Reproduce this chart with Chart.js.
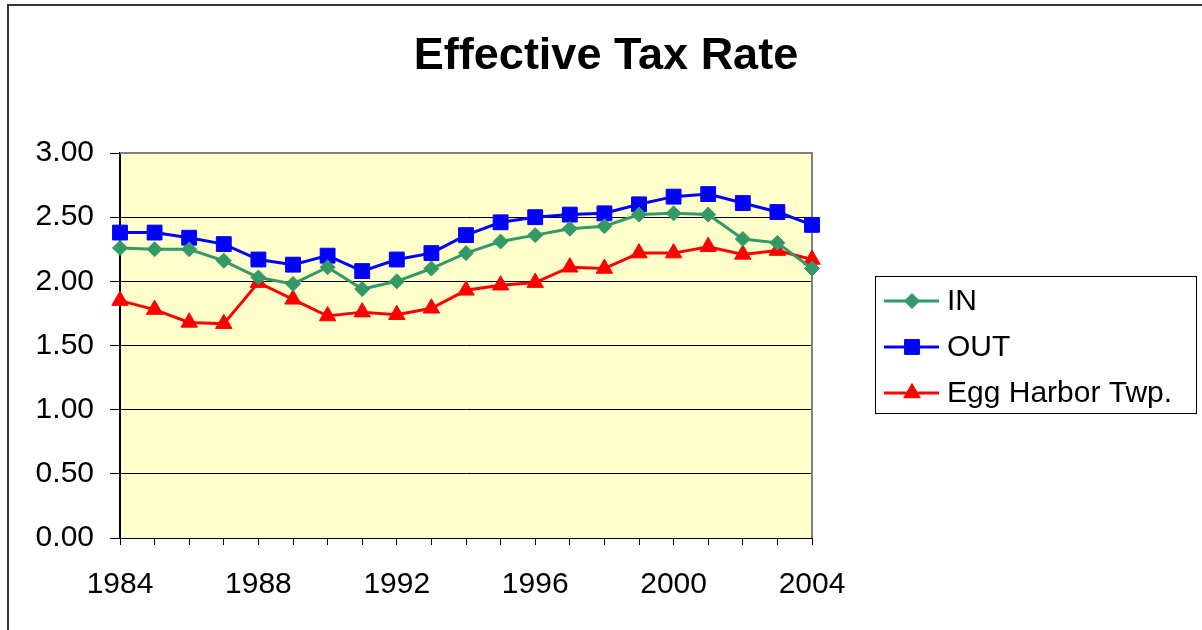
<!DOCTYPE html>
<html>
<head>
<meta charset="utf-8">
<title>Effective Tax Rate</title>
<script src="https://cdn.jsdelivr.net/npm/chart.js@4/dist/chart.umd.min.js"></script>
<style>
  html, body { margin: 0; padding: 0; background: #fff; }
  canvas { display: block; }
</style>
</head>
<body>
<canvas id="taxChart" width="1202" height="630"></canvas>
<script>
// effective tax rate by year, three series
const years = ['1984', '1985', '1986', '1987', '1988', '1989', '1990', '1991', '1992', '1993', '1994',
  '1995', '1996', '1997', '1998', '1999', '2000', '2001', '2002', '2003', '2004'];
const inRates = [2.26, 2.25, 2.25, 2.16, 2.03, 1.98, 2.11, 1.94, 2.00, 2.10, 2.22,
  2.31, 2.36, 2.41, 2.43, 2.52, 2.53, 2.52, 2.33, 2.30, 2.10];
const outRates = [2.38, 2.38, 2.34, 2.29, 2.17, 2.13, 2.20, 2.08, 2.17, 2.22, 2.36,
  2.46, 2.50, 2.52, 2.53, 2.60, 2.66, 2.68, 2.61, 2.54, 2.44];
const eggHarborRates = [1.85, 1.78, 1.68, 1.67, 1.99, 1.86, 1.73, 1.76, 1.74, 1.79, 1.93,
  1.97, 1.99, 2.11, 2.10, 2.22, 2.22, 2.27, 2.21, 2.24, 2.17];
const yTicks = [0, 0.5, 1.0, 1.5, 2.0, 2.5, 3.0];

const FONT = '"Liberation Sans", Arial, sans-serif';

// frame, title and plot background
const backdrop = {
  id: 'backdrop',
  beforeDraw(chart) {
    const ctx = chart.ctx;
    const a = chart.chartArea;
    ctx.save();
    ctx.fillStyle = '#FFFFCC';
    ctx.fillRect(a.left, a.top, a.right - a.left, a.bottom - a.top);
    ctx.strokeStyle = '#333';
    ctx.lineWidth = 2;
    ctx.beginPath();
    ctx.moveTo(8, 640);
    ctx.lineTo(8, 5);
    ctx.lineTo(1210, 5);
    ctx.stroke();
    ctx.fillStyle = '#000';
    ctx.font = 'bold 45px ' + FONT;
    ctx.textAlign = 'center';
    ctx.textBaseline = 'middle';
    ctx.fillText('Effective Tax Rate', 606, 57);
    ctx.restore();
  },
  beforeDatasetsDraw(chart) {
    // grey border on top and right of plot area
    const ctx = chart.ctx;
    const a = chart.chartArea;
    ctx.save();
    ctx.strokeStyle = '#808080';
    ctx.lineWidth = 2;
    ctx.beginPath();
    ctx.moveTo(a.left, a.top);
    ctx.lineTo(a.right, a.top);
    ctx.lineTo(a.right, a.bottom);
    ctx.stroke();
    ctx.restore();
  }
};

// boxed legend on the right
const sideLegend = {
  id: 'sideLegend',
  afterDraw(chart) {
    const ctx = chart.ctx;
    ctx.save();
    ctx.fillStyle = '#fff';
    ctx.strokeStyle = '#000';
    ctx.lineWidth = 1;
    ctx.fillRect(875, 276, 322, 137);
    ctx.strokeRect(875.5, 276.5, 321, 137);
    chart.data.datasets.forEach((ds, i) => {
      const y = 301 + i * 46;
      ctx.strokeStyle = ds.borderColor;
      ctx.lineWidth = ds.borderWidth;
      ctx.beginPath();
      ctx.moveTo(884, y);
      ctx.lineTo(939, y);
      ctx.stroke();
      ctx.fillStyle = ds.backgroundColor;
      ctx.strokeStyle = ds.borderColor;
      ctx.lineWidth = 1;
      Chart.helpers.drawPoint(ctx, { pointStyle: ds.pointStyle, radius: ds.pointRadius, borderWidth: 1, rotation: 0 }, 912, y);
      ctx.fillStyle = '#000';
      ctx.font = '30px ' + FONT;
      ctx.textAlign = 'left';
      ctx.textBaseline = 'middle';
      ctx.fillText(ds.label, 947, y + 1);
    });
    ctx.restore();
  }
};

const ctx = document.getElementById('taxChart');
new Chart(ctx, {
  type: 'line',
  data: {
    labels: years,
    datasets: [
      {
        label: 'IN',
        data: inRates,
        borderColor: '#339966',
        backgroundColor: '#339966',
        borderWidth: 3,
        pointStyle: 'rectRot',
        pointRadius: 7.5,
        pointBorderWidth: 1,
        clip: false
      },
      {
        label: 'OUT',
        data: outRates,
        borderColor: '#0000FF',
        backgroundColor: '#0000FF',
        borderWidth: 3,
        pointStyle: 'rect',
        pointRadius: 10.5,
        pointBorderWidth: 1,
        clip: false
      },
      {
        label: 'Egg Harbor Twp.',
        data: eggHarborRates,
        borderColor: '#FF0000',
        backgroundColor: '#FF0000',
        borderWidth: 3,
        pointStyle: 'triangle',
        pointRadius: 9.5,
        pointBorderWidth: 1,
        clip: false
      }
    ]
  },
  options: {
    responsive: false,
    animation: false,
    layout: {
      padding: { top: 153, right: 390, left: 0, bottom: 0 }
    },
    plugins: {
      legend: { display: false },
      title: { display: false },
      tooltip: { enabled: false }
    },
    scales: {
      x: {
        type: 'category',
        offset: false,
        afterFit(scale) { scale.height = 92; },
        grid: {
          drawOnChartArea: false,
          drawTicks: true,
          tickLength: 7,
          color: '#000'
        },
        border: { color: '#000', width: 1 },
        ticks: {
          autoSkip: false,
          maxRotation: 0,
          padding: 22,
          color: '#000',
          font: { family: FONT, size: 30 },
          callback: function (value, index) {
            return Number(years[index]) % 4 === 0 ? years[index] : '';
          }
        }
      },
      y: {
        min: yTicks[0],
        max: yTicks[yTicks.length - 1],
        afterFit(scale) { scale.width = 120; },
        afterBuildTicks(scale) { scale.ticks = yTicks.map(v => ({ value: v })); },
        grid: {
          color: '#000',
          lineWidth: 1,
          tickLength: 10
        },
        border: { color: '#000', width: 2 },
        ticks: {
          padding: 16,
          color: '#000',
          font: { family: FONT, size: 30 },
          callback: v => v.toFixed(2)
        }
      }
    }
  },
  plugins: [backdrop, sideLegend]
});
</script>
</body>
</html>
